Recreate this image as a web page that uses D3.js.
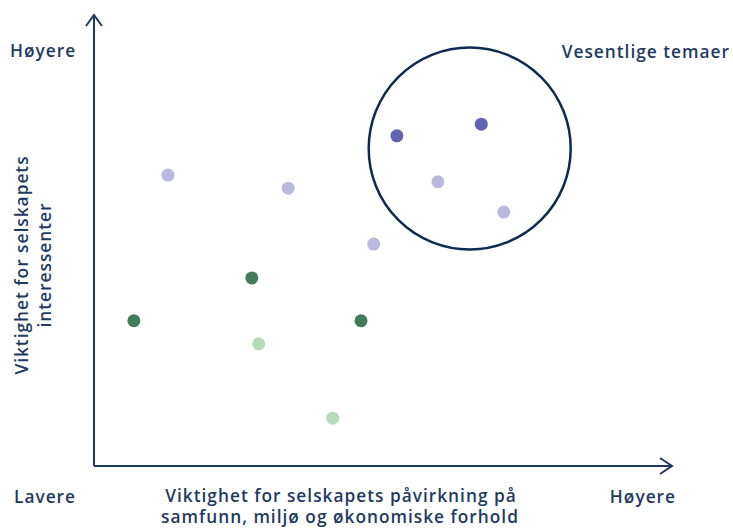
<!DOCTYPE html>
<html>
<head>
<meta charset="utf-8">
<script src="https://cdn.jsdelivr.net/npm/d3@7"></script>
<style>
  body { margin: 0; background: #fff; }
  text { font-family: 'Open Sans', sans-serif; font-weight: 600; fill: #1f3a5f; letter-spacing: 1px; }
</style>
</head>
<body>
<svg id="chart" width="733" height="528"></svg>
<script>
// materiality matrix: x = impact on society, y = importance for stakeholders (0-10)
const labels = ['A', 'B', 'C', 'D', 'E', 'F', 'G', 'H', 'I', 'J', 'K', 'L']
const xValues = [1.28, 3.36, 4.84, 5.95, 7.09, 5.24, 6.70, 0.69, 2.73, 4.62, 2.85, 4.13]
const yValues = [6.45, 6.16, 4.92, 6.30, 5.63, 7.32, 7.58, 3.22, 4.17, 3.22, 2.71, 1.06]
const groups = ['lilla', 'lilla', 'lilla', 'lilla', 'lilla', 'blaa', 'blaa', 'gronn', 'gronn', 'gronn', 'lysgronn', 'lysgronn']
const groupNames = ['lilla', 'blaa', 'gronn', 'lysgronn']
const groupColors = ['#b9b9dd', '#5f63b0', '#427c5d', '#b4dcb9']
const focusCenter = [6.5, 7.04]

const points = labels.map((l, i) => ({ id: l, x: xValues[i], y: yValues[i], group: groups[i] }))

const svg = d3.select('#chart')
const navy = '#1f3a5f'

const x = d3.scaleLinear().domain([0, 10]).range([94, 672])
const y = d3.scaleLinear().domain([0, 10]).range([466, 15])
const color = d3.scaleOrdinal().domain(groupNames).range(groupColors)

// axes with open arrow heads
const axes = svg.append('g')
  .attr('fill', 'none')
  .attr('stroke', navy)
  .attr('stroke-width', 2)
axes.append('path')
  .attr('d', `M${x(0)},${y(0)}V${y(10)}`)
axes.append('path')
  .attr('d', `M${x(0)},${y(0)}H${x(10)}`)
axes.append('path')
  .attr('d', `M${x(0) - 8},${y(10) + 11}L${x(0)},${y(10)}L${x(0) + 8},${y(10) + 11}`)
axes.append('path')
  .attr('d', `M${x(10) - 12},${y(0) - 8}L${x(10)},${y(0)}L${x(10) - 12},${y(0) + 8}`)

// focus circle
svg.append('circle')
  .attr('cx', x(focusCenter[0]))
  .attr('cy', y(focusCenter[1]))
  .attr('r', 101)
  .attr('fill', 'none')
  .attr('stroke', '#0d2b52')
  .attr('stroke-width', 2.5)

svg.append('g')
  .selectAll('circle')
  .data(points)
  .join('circle')
  .attr('cx', d => x(d.x))
  .attr('cy', d => y(d.y))
  .attr('r', 6.5)
  .attr('fill', d => color(d.group))

// texts
const fs = 17.3
svg.append('text').attr('x', 10).attr('y', 57).style('font-size', fs).text('Høyere')
svg.append('text').attr('x', 730).attr('y', 58).attr('text-anchor', 'end').style('font-size', fs).text('Vesentlige temaer')
svg.append('text').attr('x', 14).attr('y', 503).style('font-size', fs).text('Lavere')
svg.append('text').attr('x', 676).attr('y', 503).attr('text-anchor', 'end').style('font-size', fs).text('Høyere')

const xTitle = svg.append('text').attr('text-anchor', 'middle').style('font-size', fs)
xTitle.append('tspan').attr('x', 341).attr('y', 502).text('Viktighet for selskapets påvirkning på')
xTitle.append('tspan').attr('x', 340).attr('y', 523).text('samfunn, miljø og økonomiske forhold')

const yTitle = svg.append('text')
  .attr('text-anchor', 'middle')
  .attr('transform', 'translate(28,265) rotate(-90)')
  .style('font-size', fs)
yTitle.append('tspan').attr('x', 0).attr('y', 0).text('Viktighet for selskapets')
yTitle.append('tspan').attr('x', 0).attr('y', 23).text('interessenter')
</script>
</body>
</html>
